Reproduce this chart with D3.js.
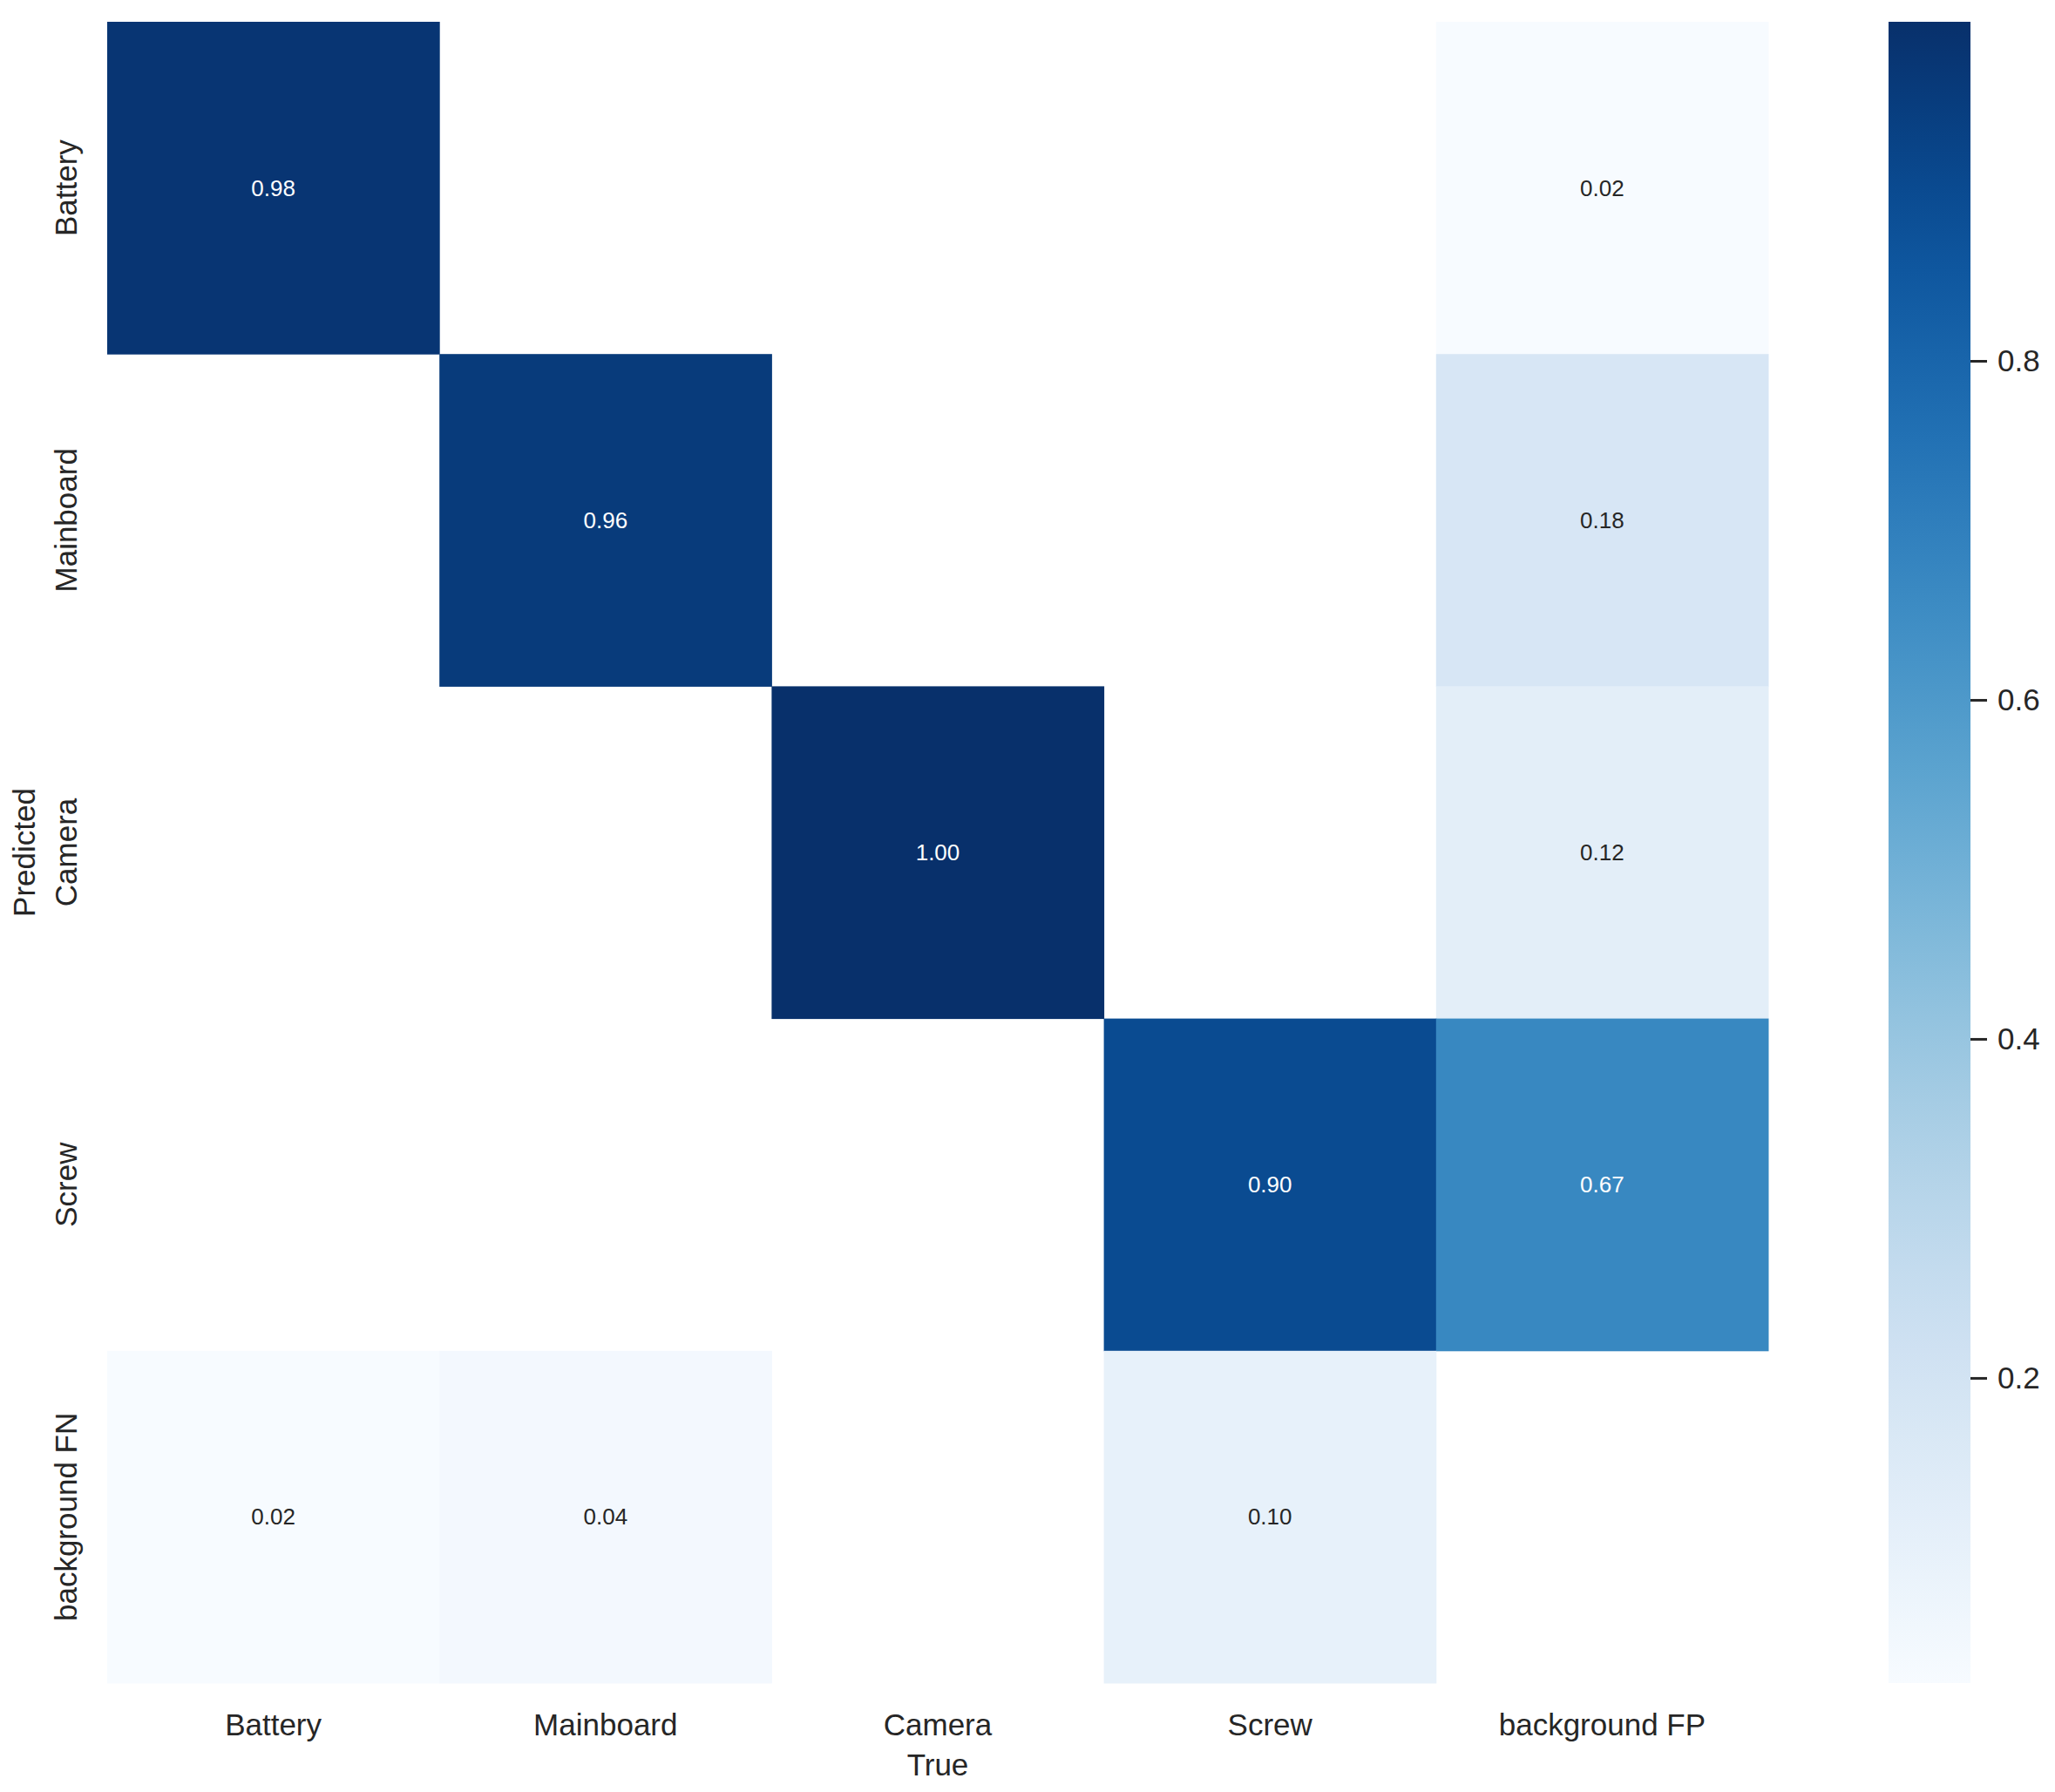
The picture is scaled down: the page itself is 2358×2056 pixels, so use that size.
<!DOCTYPE html>
<html>
<head>
<meta charset="utf-8">
<script src="https://cdn.jsdelivr.net/npm/d3@7"></script>
<style>
  body { margin: 0; background: #fff; }
  text { font-family: "Liberation Sans", Arial, sans-serif; fill: #262626; }
</style>
</head>
<body>
<div id="chart"></div>
<script>
const predicted = ["Battery", "Mainboard", "Camera", "Screw", "background FN"];
const trueLabels = ["Battery", "Mainboard", "Camera", "Screw", "background FP"];
// rows = predicted, cols = true ; 0 = empty cell
const matrix = [
  [0.98, 0, 0, 0, 0.02],
  [0, 0.96, 0, 0, 0.18],
  [0, 0, 1.00, 0, 0.12],
  [0, 0, 0, 0.90, 0.67],
  [0.02, 0.04, 0, 0.10, 0]
];
const cbTicks = [0.2, 0.4, 0.6, 0.8];

const width = 2358, height = 2056;
const margin = { top: 25, left: 123 };
const cell = 381.2;

let svg = d3.select("#chart").append("svg")
  .attr("width", width)
  .attr("height", height);

let cells = [];
matrix.forEach((row, i) => row.forEach((v, j) => cells.push({ i, j, v })));

const x = d3.scaleBand().domain(trueLabels)
  .range([margin.left, margin.left + cell * 5]);
const y = d3.scaleBand().domain(predicted)
  .range([margin.top, margin.top + cell * 5]);

const color = d3.scaleSequential(d3.interpolateBlues).domain([0.02, 1.0]);

svg.selectAll(".cell")
  .data(cells.filter(d => d.v > 0))
  .enter().append("rect")
  .attr("class", "cell")
  .attr("x", d => x(trueLabels[d.j]))
  .attr("y", d => y(predicted[d.i]))
  .attr("width", x.bandwidth() + 0.5)
  .attr("height", y.bandwidth() + 0.5)
  .attr("fill", d => color(d.v));

function textColor(v) {
  const c = d3.rgb(color(v));
  const lin = ch => { ch /= 255; return ch <= 0.03928 ? ch / 12.92 : Math.pow((ch + 0.055) / 1.055, 2.4); };
  const lum = 0.2126 * lin(c.r) + 0.7152 * lin(c.g) + 0.0722 * lin(c.b);
  return lum > 0.408 ? "#262626" : "#ffffff";
}

svg.selectAll(".annot")
  .data(cells.filter(d => d.v > 0))
  .enter().append("text")
  .attr("class", "annot")
  .attr("x", d => x(trueLabels[d.j]) + x.bandwidth() / 2)
  .attr("y", d => y(predicted[d.i]) + y.bandwidth() / 2)
  .attr("text-anchor", "middle")
  .attr("dominant-baseline", "central")
  .style("font-size", "26px")
  .style("fill", d => textColor(d.v))
  .text(d => d.v.toFixed(2));

// x tick labels
svg.selectAll(".xlab")
  .data(trueLabels)
  .enter().append("text")
  .attr("class", "xlab")
  .attr("x", d => x(d) + x.bandwidth() / 2)
  .attr("y", 1978)
  .attr("text-anchor", "middle")
  .attr("dominant-baseline", "central")
  .style("font-size", "35px")
  .text(d => d);

// y tick labels
svg.selectAll(".ylab")
  .data(predicted)
  .enter().append("text")
  .attr("class", "ylab")
  .attr("transform", d => `translate(75,${y(d) + y.bandwidth() / 2}) rotate(-90)`)
  .attr("text-anchor", "middle")
  .attr("dominant-baseline", "central")
  .style("font-size", "35px")
  .text(d => d);

svg.append("text")
  .attr("x", margin.left + cell * 2.5)
  .attr("y", 2024)
  .attr("text-anchor", "middle")
  .attr("dominant-baseline", "central")
  .style("font-size", "35px")
  .text("True");

svg.append("text")
  .attr("transform", `translate(27,${margin.top + cell * 2.5}) rotate(-90)`)
  .attr("text-anchor", "middle")
  .attr("dominant-baseline", "central")
  .style("font-size", "35px")
  .text("Predicted");

// colorbar
const cbX = 2167, cbW = 94;
const cbY = d3.scaleLinear().domain([0.02, 1.0])
  .range([margin.top + cell * 5, margin.top]);

const grad = svg.append("defs").append("linearGradient")
  .attr("id", "cbgrad")
  .attr("x1", "0").attr("y1", "1").attr("x2", "0").attr("y2", "0");
d3.range(0, 1.0001, 0.05).forEach(t => {
  grad.append("stop")
    .attr("offset", t)
    .attr("stop-color", color(0.02 + t * 0.98));
});

svg.append("rect")
  .attr("x", cbX)
  .attr("y", cbY(1.0))
  .attr("width", cbW)
  .attr("height", cbY(0.02) - cbY(1.0))
  .attr("fill", "url(#cbgrad)");

const cbAxis = svg.append("g")
  .attr("transform", `translate(${cbX + cbW},0)`)
  .call(d3.axisRight(cbY).tickValues(cbTicks).tickFormat(d3.format(".1f")).tickSize(19).tickPadding(12));
cbAxis.select(".domain").remove();
cbAxis.selectAll("line").attr("stroke", "#262626").attr("stroke-width", 3);
cbAxis.selectAll("text")
  .style("font-size", "35px")
  .style("font-family", "Liberation Sans, Arial, sans-serif")
  .attr("fill", "#262626");
</script>
</body>
</html>
